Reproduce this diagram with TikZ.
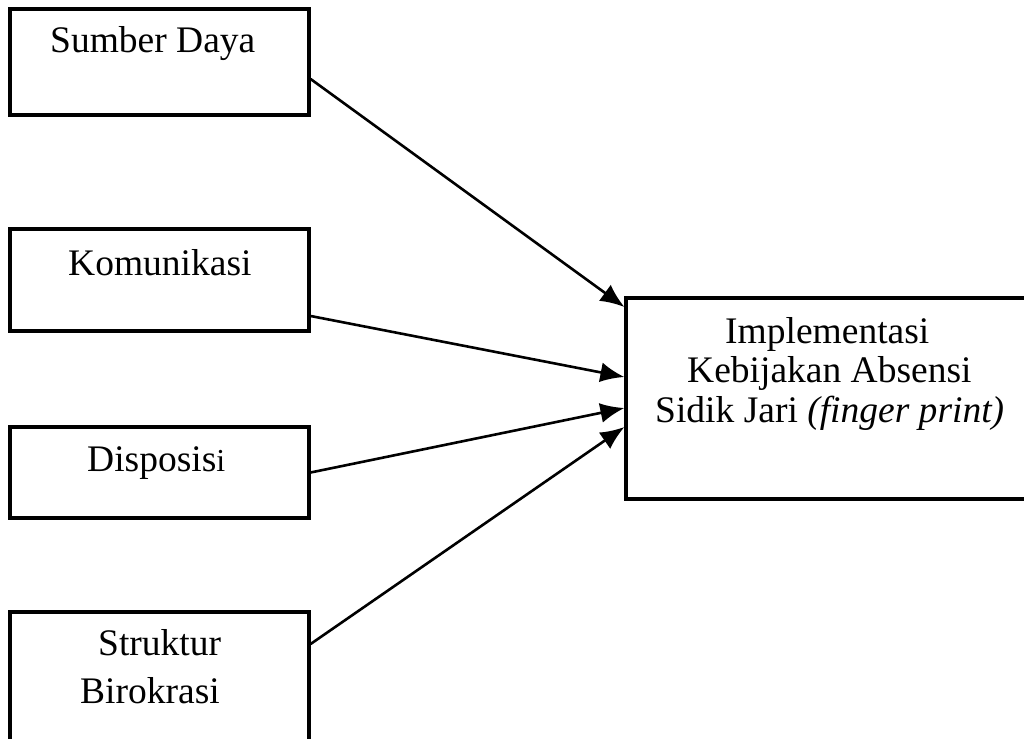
\documentclass[tikz,border=0pt]{standalone}
\usepackage{fontspec}
\setmainfont{Liberation Serif}
\usetikzlibrary{arrows.meta}
\begin{document}
\begin{tikzpicture}[x=1pt,y=-1pt,
  box/.style={draw,line width=3.2pt,minimum width=299pt,inner sep=0pt},
  lbl/.style={anchor=base west,inner sep=0pt,font=\fontsize{37.5}{44}\selectfont},
  conn/.style={line width=2.6pt,-{Latex[length=24pt,width=20pt]}}]
\useasboundingbox (0,0) rectangle (1024,738);
\node[box,minimum height=106pt] (b1) at (159.5,62) {};
\node[box,minimum height=102pt] (b2) at (159.5,280) {};
\node[box,minimum height=91pt] (b3) at (159.5,472.5) {};
\node[box,minimum height=148pt] (b4) at (159.5,686) {};
\node[box,minimum width=414pt,minimum height=201pt] (b5) at (833,398.5) {};
\node[lbl] (t1) at (50,53) {Sumber Daya};
\node[lbl] (t2) at (68,275) {Komunikasi};
\node[lbl] (t3) at (87,471) {Disposis{\fontsize{32}{32}\selectfont i}};
\node[lbl] (t4a) at (98,655) {Struktur};
\node[lbl] (t4b) at (80,703) {Birokrasi};
\node[lbl] (t5a) at (725,343) {Implementasi};
\node[lbl] (t5b) at (687,382) {Kebijakan Absensi};
\node[lbl] (t5c) at (655,422) {Sidik Jari \textit{(finger print)}};
\draw[conn] ([yshift=-17pt]b1.east) -- ([yshift=91.5pt]b5.west);
\draw[conn] ([yshift=-36pt]b2.east) -- ([yshift=21.5pt]b5.west);
\draw[conn] (b3.east) -- ([yshift=-9.5pt]b5.west);
\draw[conn] ([yshift=42pt]b4.east) -- ([yshift=-28.5pt]b5.west);
\end{tikzpicture}
\end{document}
